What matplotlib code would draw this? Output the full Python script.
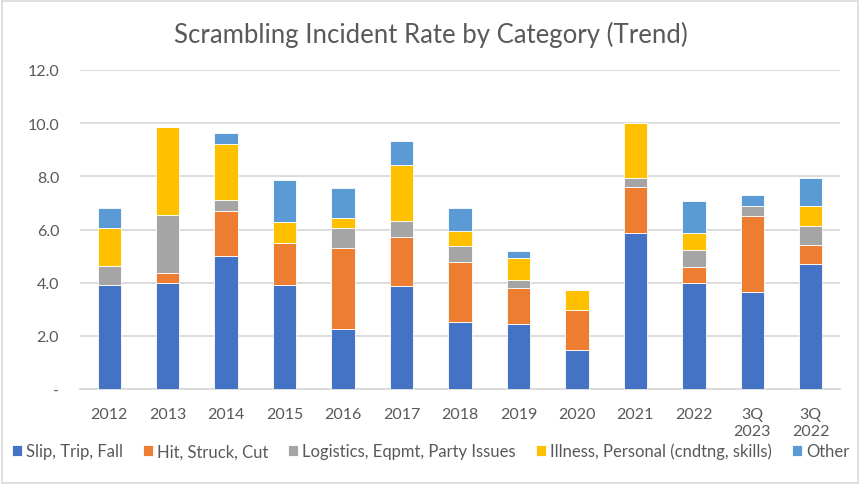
import matplotlib
matplotlib.use("Agg")
import matplotlib.pyplot as plt
import numpy as np
from matplotlib.patches import Rectangle

years = ["2012", "2013", "2014", "2015", "2016", "2017", "2018",
         "2019", "2020", "2021", "2022", "3Q\n2023", "3Q\n2022"]

slip = [3.90, 4.00, 5.02, 3.93, 2.26, 3.89, 2.53, 2.45, 1.48, 5.86, 4.00, 3.64, 4.69]
hit = [0.00, 0.38, 1.67, 1.58, 3.03, 1.81, 2.26, 1.36, 1.51, 1.73, 0.60, 2.85, 0.72]
logistics = [0.74, 2.18, 0.42, 0.00, 0.76, 0.61, 0.58, 0.28, 0.00, 0.35, 0.63, 0.41, 0.73]
illness = [1.43, 3.31, 2.11, 0.79, 0.39, 2.12, 0.58, 0.83, 0.75, 2.07, 0.62, 0.00, 0.74]
other = [0.72, 0.00, 0.42, 1.58, 1.13, 0.89, 0.85, 0.27, 0.00, 0.00, 1.23, 0.40, 1.07]

series = [
    ("Slip, Trip, Fall", slip, "#4472C4"),
    ("Hit, Struck, Cut", hit, "#ED7D31"),
    ("Logistics, Eqpmt, Party Issues", logistics, "#A5A5A5"),
    ("Illness, Personal (cndtng, skills)", illness, "#FFC000"),
    ("Other", other, "#5B9BD5"),
]

plt.rcParams["font.family"] = ["Lato", "DejaVu Sans"]
text_color = "#595959"

fig = plt.figure(figsize=(8.61, 4.85), dpi=100)
ax = fig.add_axes([80 / 861, 1 - 390 / 485, 760 / 861, 319 / 485])

x = np.arange(len(years))
bottom = np.zeros(len(years))
for name, vals, color in series:
    vals = np.array(vals)
    ax.bar(x, vals, width=0.4, bottom=bottom, color=color, label=name,
           edgecolor="white", linewidth=0.6, zorder=3)
    bottom += vals

ax.set_xlim(-0.5, len(years) - 0.5)
ax.set_ylim(0, 12)
ax.set_yticks(np.arange(0, 12.1, 2))
ax.set_yticklabels(["-"] + [f"{v:.1f}" for v in np.arange(2, 12.1, 2)])
ax.set_xticks(x)
ax.set_xticklabels(years, va="top", linespacing=1.25)
ax.yaxis.grid(True, color="#d9d9d9", linewidth=1.3, zorder=0)
for s in ["top", "right", "left"]:
    ax.spines[s].set_visible(False)
ax.spines["bottom"].set_color("#d9d9d9")
ax.spines["bottom"].set_linewidth(1.3)
ax.tick_params(axis="both", length=0, labelsize=11.5, colors=text_color)
ax.tick_params(axis="x", pad=13)
ax.tick_params(axis="y", pad=15)

fig.suptitle("Scrambling Incident Rate by Category (Trend)", y=0.955,
             fontsize=18.5, color=text_color)

handles, labels = ax.get_legend_handles_labels()
leg = fig.legend(handles, labels, loc="center", bbox_to_anchor=(0.5, 1 - 452 / 485),
                 ncol=5, frameon=False, fontsize=12, handlelength=0.6,
                 handleheight=0.6, handletextpad=0.25, columnspacing=1.2,
                 labelcolor=text_color)

fig.patches.append(Rectangle((0.002, 0.003), 0.995, 0.993, transform=fig.transFigure,
                             fill=False, edgecolor="#d9d9d9", linewidth=1.2))

fig.savefig("out.png", dpi=100)
plt.close(fig)
